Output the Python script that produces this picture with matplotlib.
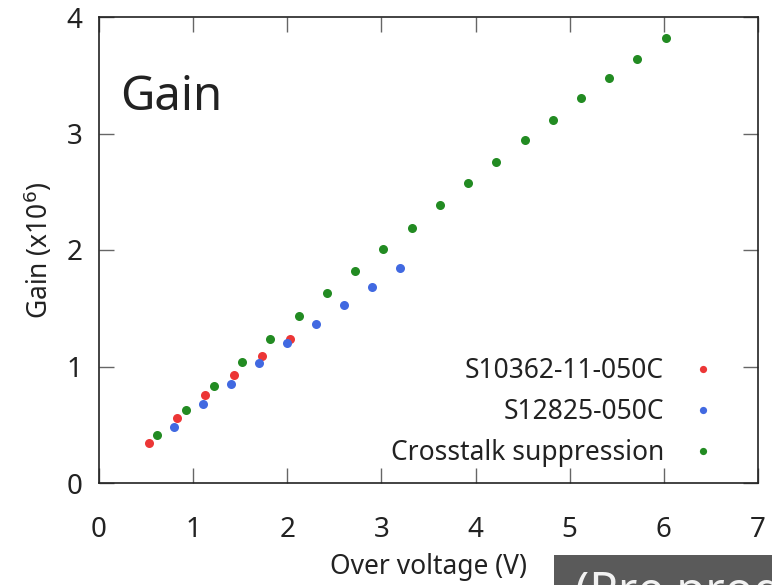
import matplotlib
matplotlib.use("Agg")
import matplotlib.pyplot as plt
from matplotlib.patches import Rectangle

plt.rcParams['font.family'] = ['Noto Sans', 'DejaVu Sans']

# ---- data ----
x_s10362 = [0.53, 0.83, 1.13, 1.43, 1.73, 2.03]
g_s10362 = [0.34, 0.56, 0.755, 0.93, 1.09, 1.235]

x_s12825 = [0.80, 1.10, 1.40, 1.70, 2.00, 2.30, 2.60, 2.90, 3.20]
g_s12825 = [0.48, 0.68, 0.85, 1.027, 1.20, 1.365, 1.528, 1.685, 1.843]

x_xtalk = [0.62, 0.92, 1.22, 1.52, 1.82, 2.12, 2.42, 2.72, 3.02, 3.32,
           3.62, 3.92, 4.22, 4.52, 4.82, 5.12, 5.42, 5.72, 6.02]
g_xtalk = [0.412, 0.627, 0.835, 1.039, 1.233, 1.436, 1.628, 1.82, 2.009, 2.19,
           2.384, 2.573, 2.759, 2.944, 3.12, 3.302, 3.474, 3.642, 3.82]

labels = ["S10362-11-050C", "S12825-050C", "Crosstalk suppression"]
colors = ["#ec3636", "#4169e1", "#228b22"]

xticks = [0, 1, 2, 3, 4, 5, 6, 7]
yticks = [0, 1, 2, 3, 4]

# ---- figure ----
fig = plt.figure(figsize=(7.72, 5.85), dpi=100)
ax = fig.add_axes([99/772, 1-483/585, (758-99)/772, (483-17)/585])

for xs, ys, lab, c in zip([x_s10362, x_s12825, x_xtalk],
                          [g_s10362, g_s12825, g_xtalk], labels, colors):
    ax.plot(xs, ys, linestyle='none', marker='o', markersize=6.5,
            markeredgewidth=0, color=c, label=lab)

ax.set_xlim(0, 7)
ax.set_ylim(0, 4)
ax.set_xticks(xticks)
ax.set_yticks(yticks)

ax.tick_params(axis='both', which='both', direction='in', length=11,
               width=1.0, color='#666666', top=True, right=True,
               labelsize=20, labelcolor='#222222')
ax.tick_params(axis='x', pad=24)
ax.tick_params(axis='y', pad=12)

for sp in ax.spines.values():
    sp.set_linewidth(1.2)
    sp.set_color('#222222')

ax.set_xlabel("Over voltage (V)", fontsize=19, color='#222222', labelpad=6)
ax.set_ylabel(r"Gain (x10$^6$)", fontsize=19, color='#222222', labelpad=8)

ax.text(0.032, 0.80, "Gain", transform=ax.transAxes, fontsize=34,
        color='#222222', ha='left', va='baseline')

leg = ax.legend(loc='lower right', bbox_to_anchor=(0.9366, 0.034),
                frameon=False, markerfirst=False, fontsize=19,
                handlelength=1.0, handletextpad=0.98, labelspacing=0.5,
                borderaxespad=0, borderpad=0, markerscale=0.8)
for t in leg.get_texts():
    t.set_color('#222222')

# dark banner at bottom-right (text is cropped by the image edge, as in the source)
fig.patches.append(Rectangle((554/772, 0), 1 - 554/772, 30/585,
                             transform=fig.transFigure, facecolor='#5a5a5a',
                             edgecolor='none', zorder=0))
fig.text(575/772, -21/585, "(Pre production)", fontsize=34, color='#f2f2f2',
         ha='left', va='baseline')

fig.savefig("out.png", dpi=100)
